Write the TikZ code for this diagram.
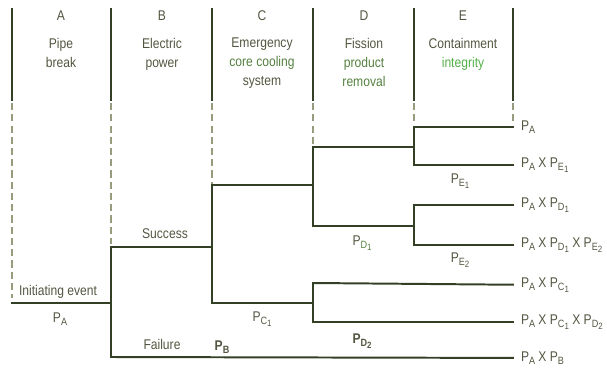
\documentclass[tikz,border=0pt]{standalone}
\usepackage{fontspec}
\setmainfont{Liberation Sans}[FakeStretch = 0.86]

\definecolor{treeline}{RGB}{52,64,38}
\definecolor{guideline}{RGB}{150,156,126}
\definecolor{labeltext}{RGB}{82,86,64}
\definecolor{greentext}{RGB}{84,128,64}
\definecolor{brighttext}{RGB}{82,176,72}

\newcommand{\prob}[1]{P\raisebox{-0.45ex}{\fontsize{7.5}{8}\selectfont #1}}
\newcommand{\idx}[1]{\raisebox{-0.35ex}{\fontsize{6.5}{7}\selectfont #1}}

\begin{document}
\begin{tikzpicture}[x = 0.025cm, y = -0.025cm, line width = 1.4pt,
                    branch/.style   = {draw = treeline, line cap = rect},
                    column/.style   = {draw = treeline, line width = 1.6pt},
                    guide/.style    = {draw = guideline, line width = 0.8pt, dash pattern = on 5pt off 3pt},
                    heading/.style  = {text = labeltext, align = center, inner sep = 0pt,
                                       font = \fontsize{10}{13.5}\selectfont},
                    label/.style    = {text = labeltext, inner sep = 0pt, font = \fontsize{10}{12}\selectfont},
                    outcome/.style  = {label, anchor = west, inner xsep = 5pt}
                    ]
    \useasboundingbox (0, 0) rectangle (607, 369);

    % columns
    \foreach \x in {12, 111, 212, 313, 414, 513}
        \draw[column] (\x, 8) -- (\x, 101);
    \foreach \x/\y in {12/298, 111/244, 212/185, 313/147, 414/127, 513/127}
        \draw[guide] (\x, 103) -- (\x, \y);

    \node[heading] (hA) at (61, 16) {A};
    \node[heading] (hB) at (162, 16) {B};
    \node[heading] (hC) at (262, 16) {C};
    \node[heading] (hD) at (364, 16) {D};
    \node[heading] (hE) at (463, 16) {E};

    \node[heading, anchor = north] (tA) at (61, 37) {Pipe\\break};
    \node[heading, anchor = north] (tB) at (162, 37) {Electric\\power};
    \node[heading, anchor = north] (tC) at (262, 37) {Emergency\\\textcolor{greentext}{core cooling}\\system};
    \node[heading, anchor = north] (tD) at (364, 37) {Fission\\\textcolor{greentext}{product}\\\textcolor{greentext}{removal}};
    \node[heading, anchor = north] (tE) at (463, 37) {Containment\\\textcolor{brighttext}{integrity}};

    % branch points
    \coordinate (init) at (12, 303);
    \coordinate (b)    at (111, 303);
    \coordinate (bs)   at (111, 247);
    \coordinate (bf)   at (111, 357);
    \coordinate (c)    at (212, 247);
    \coordinate (cs)   at (212, 185);
    \coordinate (cf)   at (212, 303);
    \coordinate (d1)   at (313, 185);
    \coordinate (d1s)  at (313, 147);
    \coordinate (d1f)  at (313, 226);
    \coordinate (d2)   at (313, 303);
    \coordinate (d2s)  at (313, 283);
    \coordinate (d2f)  at (313, 322);
    \coordinate (e1)   at (414, 147);
    \coordinate (e1s)  at (414, 127);
    \coordinate (e1f)  at (414, 165);
    \coordinate (e2)   at (414, 226);
    \coordinate (e2s)  at (414, 205);
    \coordinate (e2f)  at (414, 245);

    \node[outcome] (o1) at (513, 127) {\prob{A}};
    \node[outcome] (o2) at (513, 165) {\prob{A} X \prob{E\idx{1}}};
    \node[outcome] (o3) at (513, 205) {\prob{A} X \prob{D\idx{1}}};
    \node[outcome] (o4) at (513, 245) {\prob{A} X \prob{D\idx{1}} X \prob{E\idx{2}}};
    \node[outcome] (o5) at (513, 285) {\prob{A} X \prob{C\idx{1}}};
    \node[outcome] (o6) at (513, 322) {\prob{A} X \prob{C\idx{1}} X \prob{D\idx{2}}};
    \node[outcome] (o7) at (513, 358) {\prob{A} X \prob{B}};

    \draw[branch] (init) -- (b);
    \draw[branch] (bs) -- (bf);
    \draw[branch] (bs) -- (c);
    \draw[branch] (cs) -- (cf);
    \draw[branch] (cs) -- (d1);
    \draw[branch] (d1s) -- (d1f);
    \draw[branch] (d1s) -- (e1);
    \draw[branch] (e1s) -- (e1f);
    \draw[branch] (e1s) -- (o1);
    \draw[branch] (e1f) -- (o2);
    \draw[branch] (d1f) -- (e2);
    \draw[branch] (e2s) -- (e2f);
    \draw[branch] (e2s) -- (o3);
    \draw[branch] (e2f) -- (o4);
    \draw[branch] (cf) -- (d2);
    \draw[branch] (d2s) -- (d2f);
    \draw[branch] (d2s) -- (o5);
    \draw[branch] (d2f) -- (o6);
    \draw[branch] (bf) -- (o7);

    % branch labels
    \node[label] (lie) at (58, 292) {Initiating event};
    \node[label] (lpa) at (60, 319) {\prob{A}};
    \node[label] (lsu) at (165, 234) {Success};
    \node[label] (lfa) at (162, 344) {Failure};
    \node[label] (lpb) at (222, 347) {\textbf{\prob{B}}};
    \node[label] (lc1) at (262, 319) {\prob{C\idx{1}}};
    \node[label] (ld1) at (362, 243) {\prob{\textcolor{greentext}{D\idx{1}}}};
    \node[label] (ld2) at (362, 341) {\textbf{\prob{D\idx{2}}}};
    \node[label] (le1) at (460, 181) {\prob{E\idx{1}}};
    \node[label] (le2) at (460, 260) {\prob{E\idx{2}}};
\end{tikzpicture}
\end{document}
